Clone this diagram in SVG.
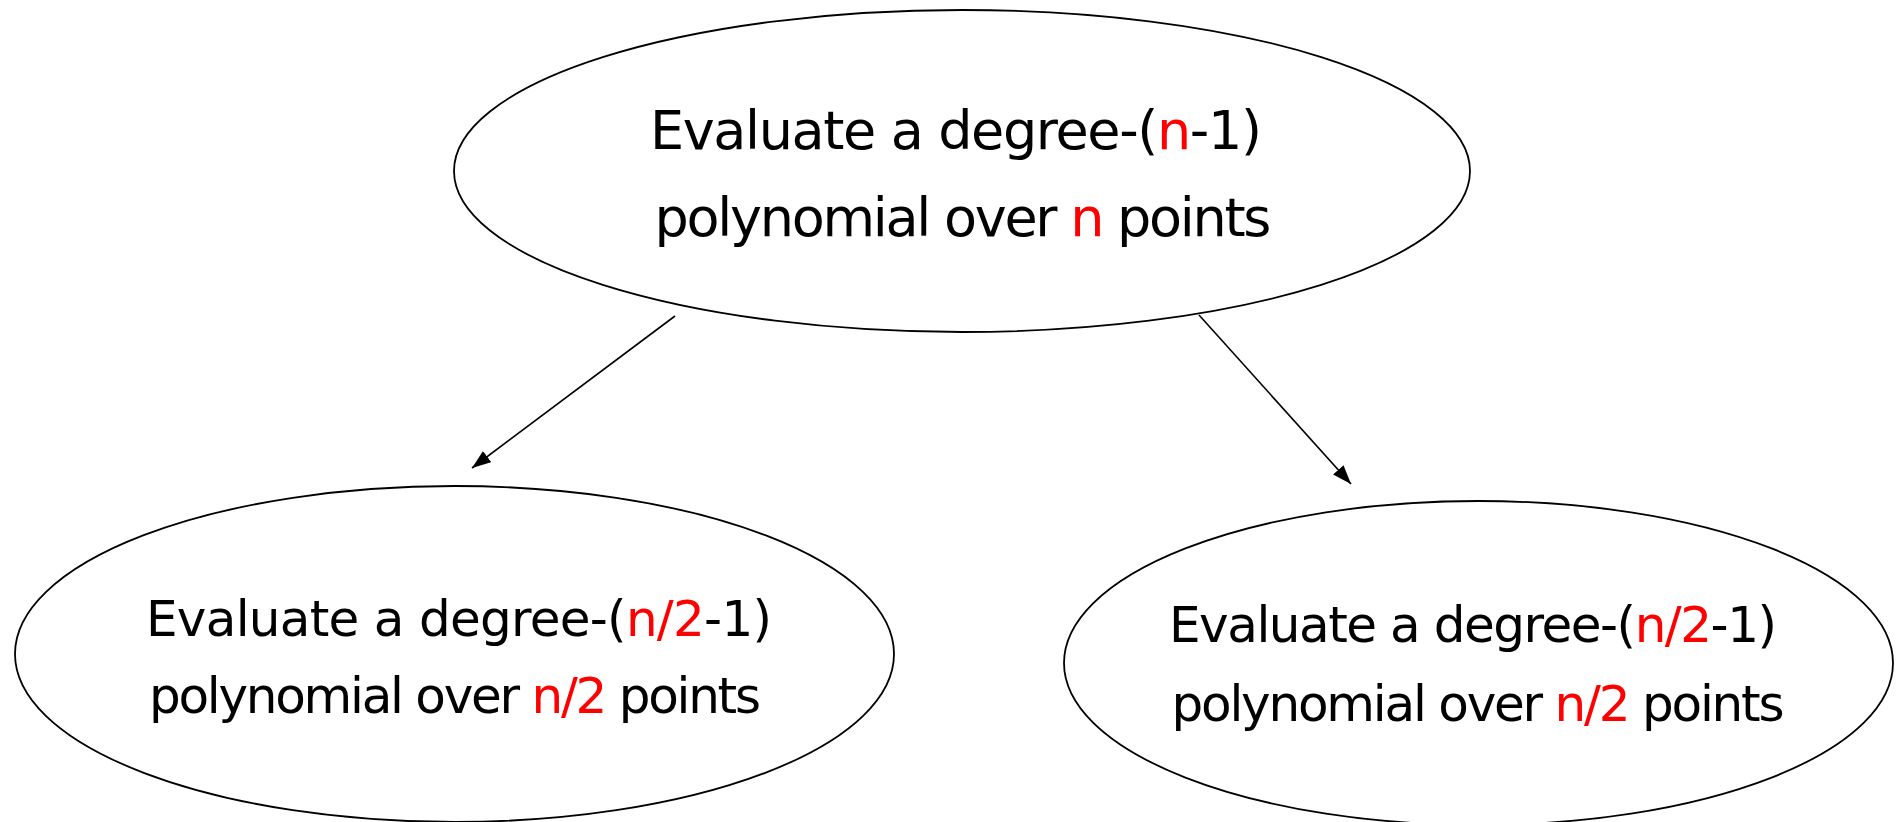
<svg xmlns="http://www.w3.org/2000/svg" width="1899" height="822" viewBox="0 0 1899 822">
<style>
.node ellipse{fill:#ffffff;stroke:#000000;stroke-width:1.8}
.lbl{font-family:"DejaVu Sans","Liberation Sans",sans-serif;fill:#000000;text-anchor:middle}
.big{font-size:54px}
.small{font-size:50px}
.red{fill:#ff0000}
.conn line{stroke:#000000;stroke-width:1.6}
</style>
<defs>
<marker id="arr" markerUnits="userSpaceOnUse" markerWidth="22" markerHeight="16" refX="19" refY="7" orient="auto">
<path d="M0,0 L19,7 L0,14 z" fill="#000000"/>
</marker>
</defs>
<rect width="1899" height="822" fill="#ffffff"/>
<g id="connectors" class="conn">
<line x1="675" y1="316" x2="472" y2="468" marker-end="url(#arr)"/>
<line x1="1199" y1="315" x2="1351" y2="484" marker-end="url(#arr)"/>
</g>
<g id="node-top" class="node">
<ellipse cx="962" cy="171" rx="508" ry="161"/>
<text class="lbl big" x="956" y="149" textLength="612">Evaluate a degree-(<tspan class="red">n</tspan>-1)</text>
<text class="lbl big" x="963" y="236" textLength="617">polynomial over <tspan class="red">n</tspan> points</text>
</g>
<g id="node-left" class="node">
<ellipse cx="454.5" cy="654" rx="439.5" ry="168"/>
<text class="lbl small" x="459" y="636" textLength="626">Evaluate a degree-(<tspan class="red">n/2</tspan>-1)</text>
<text class="lbl small" x="455" y="713" textLength="612">polynomial over <tspan class="red">n/2</tspan> points</text>
</g>
<g id="node-right" class="node">
<ellipse cx="1478.5" cy="663" rx="414.5" ry="162"/>
<text class="lbl small" x="1473" y="642" textLength="608">Evaluate a degree-(<tspan class="red">n/2</tspan>-1)</text>
<text class="lbl small" x="1478" y="721" textLength="613">polynomial over <tspan class="red">n/2</tspan> points</text>
</g>
</svg>
